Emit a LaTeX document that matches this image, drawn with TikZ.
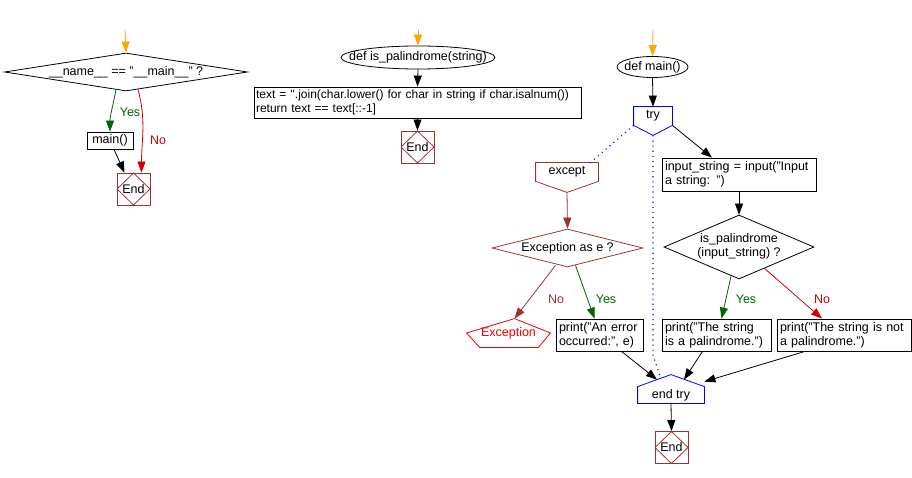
\documentclass[tikz,border=0pt]{standalone}
\usepackage{fontspec}
\setmainfont{Liberation Sans}
\usepackage{tikz}
\usetikzlibrary{arrows.meta}
\usetikzlibrary{shapes.geometric}

\definecolor{startorange}{RGB}{255,165,0}
\definecolor{endbrown}{RGB}{153,51,51}
\definecolor{yesgreen}{RGB}{0,102,0}
\definecolor{nored}{RGB}{204,0,0}
\definecolor{excred}{RGB}{238,0,0}
\definecolor{tryblue}{RGB}{0,0,255}

\begin{document}
\begin{tikzpicture}[x=1pt,y=-1pt,line width=0.8pt,
	every node/.style={font=\fontsize{12.5}{14}\selectfont},
	flow/.style={-{Triangle[length=11pt,width=8pt]}},
	startflow/.style={flow,draw=startorange},
	yesflow/.style={flow,draw=yesgreen},
	noflow/.style={flow,draw=nored},
	excflow/.style={flow,draw=endbrown},
	trydots/.style={draw=tryblue,line width=1.1pt,dash pattern=on 1.1pt off 4pt},
	proc/.style={draw,rectangle,inner sep=0pt,inner xsep=3pt,align=left},
	decision/.style={diamond,draw,inner sep=0pt},
	term/.style={ellipse,draw,inner sep=0pt},
	blockhead/.style={rectangle,inner sep=0pt},
	endbox/.style={rectangle,draw=endbrown,minimum width=33pt,minimum height=32pt,inner sep=0pt,
		path picture={\draw[endbrown] (path picture bounding box.north) -- (path picture bounding box.east)
			-- (path picture bounding box.south) -- (path picture bounding box.west) -- cycle;}},
	yeslabel/.style={text=yesgreen},
	nolabel/.style={text=nored}]
\useasboundingbox (0,0) rectangle (912,478);

% main guard
\coordinate (s1) at (125,30);
\node[decision,minimum width=243pt,minimum height=38pt] (d1) at (126,72) {\makebox[0pt]{\_\_name\_\_ == "\_\_main\_\_" ?}};
\node[proc,align=center,text width=40pt,minimum height=17pt] (mainc) at (110,140.5) {main()};
\node[endbox] (end1) at (133.5,189) {End};

\draw[startflow] (s1) -- (d1.north);
\draw[yesflow] ([xshift=-10pt,yshift=2pt]d1.south) to[out=-100,in=90] (mainc.north);
\draw[noflow] ([xshift=12pt,yshift=2pt]d1.south) to[out=-75,in=90] ([xshift=8pt]end1.north);
\draw[flow] ([xshift=4pt]mainc.south) -- ([xshift=-9pt]end1.north);
\node[yeslabel] (y1) at (130,112) {Yes};
\node[nolabel] (n1) at (158,140) {No};

% is_palindrome
\coordinate (s2) at (418,30);
\node[term,minimum width=154pt,minimum height=23pt] (palf) at (418,57.5) {\makebox[0pt]{def is\_palindrome(string)}};
\node[proc,inner xsep=2pt,text width=323pt,minimum height=31pt,font=\fontsize{12}{14}\selectfont] (pbody) at (417.5,102.5) {text = \textquotesingle\textquotesingle.join(char.lower() for char in string if char.isalnum())\\return text == text[::-1]};
\node[endbox] (end2) at (417.5,147) {End};

\draw[startflow] (s2) -- (palf.north);
\draw[flow] (palf.south) -- (pbody.north);
\draw[flow] (pbody.south) -- (end2.north);

% main
\coordinate (s3) at (653,30);
\node[term,minimum width=71pt,minimum height=21pt] (mainf) at (652.5,67) {\makebox[0pt]{def main()}};

\node[blockhead,minimum width=38pt,minimum height=18pt] (tryblk) at (653,116) {try};
\draw[tryblue] (tryblk.north west) -- (tryblk.north east) -- (tryblk.south east)
	-- ([yshift=-10pt]tryblk.south) -- (tryblk.south west) -- cycle;

\node[blockhead,minimum width=62pt,minimum height=18pt] (exceptblk) at (567,172) {except};
\draw[endbrown] (exceptblk.north west) -- (exceptblk.north east) -- (exceptblk.south east)
	-- ([yshift=-11pt]exceptblk.south) -- (exceptblk.south west) -- cycle;

\node[decision,draw=endbrown,minimum width=151pt,minimum height=38pt] (d3) at (567.5,248) {\makebox[0pt]{Exception as e ?}};

\node[blockhead,text=excred,minimum width=83pt,minimum height=28pt] (raised) at (508.5,333) {Exception};
\draw[excred] (raised.west) -- ([xshift=6pt]raised.north) -- (raised.east)
	-- ([xshift=-12pt]raised.south east) -- ([xshift=13pt]raised.south west) -- cycle;

\node[proc,text width=81pt,minimum height=32pt] (perr) at (599.5,335) {print("An error\\occurred:", e)};
\node[proc,text width=148pt,minimum height=33pt] (inp) at (739,174.5) {input\_string = input("Input\\a string: ")};
\node[decision,minimum width=150pt,minimum height=64pt] (d2) at (739,247) {\makebox[0pt]{\begin{tabular}{@{}c@{}}is\_palindrome\\(input\_string) ?\end{tabular}}};
\node[proc,text width=103pt,minimum height=32pt] (ptrue) at (716.5,335) {print("The string\\is a palindrome.")};
\node[proc,text width=128pt,minimum height=32pt] (pfalse) at (844,335) {print("The string is not\\a palindrome.")};

\node[blockhead,minimum width=66pt,minimum height=16pt] (endtry) at (671,395) {end try};
\draw[tryblue] (endtry.south west) -- (endtry.north west) -- ([yshift=12pt]endtry.north)
	-- (endtry.north east) -- (endtry.south east) -- cycle;
\node[endbox] (end3) at (671.5,447.5) {End};

\draw[startflow] (s3) -- (mainf.north);
\draw[flow] (mainf.south) -- (tryblk.north);
\draw[flow] (tryblk.south east) -- ([xshift=-27pt]inp.north);
\draw[trydots] (tryblk.south west) -- ([xshift=-8pt]exceptblk.north east);
\draw[trydots] ([yshift=-10pt]tryblk.south) -- ++(0,220) -- ([xshift=-10pt,yshift=8pt]endtry.north);

\draw[excflow] ([yshift=-11pt]exceptblk.south) -- (d3.north);
\draw[excflow] ([xshift=-12pt,yshift=2pt]d3.south) -- ([xshift=6pt]raised.north);
\draw[yesflow] ([xshift=8pt,yshift=2pt]d3.south) -- ([xshift=-5pt]perr.north);
\draw[flow] ([xshift=22pt]perr.south) -- ([xshift=-14pt,yshift=7pt]endtry.north);

\draw[flow] (inp.south) -- (d2.north);
\draw[yesflow] ([xshift=-8pt,yshift=3pt]d2.south) -- ([xshift=5pt]ptrue.north);
\draw[noflow] (d2.-40) -- ([xshift=-22pt]pfalse.north);
\draw[flow] ([xshift=-14pt]ptrue.south) -- ([xshift=13pt,yshift=7pt]endtry.north);
\draw[flow] ([xshift=-39pt]pfalse.south) -- ([yshift=5pt]endtry.north east);
\draw[flow] (endtry.south) -- (end3.north);

\node[nolabel,text=endbrown] (n3) at (556,299) {No};
\node[yeslabel] (y3) at (606,299) {Yes};
\node[yeslabel] (y2) at (746,299) {Yes};
\node[nolabel] (n2) at (822,299) {No};
\end{tikzpicture}
\end{document}
